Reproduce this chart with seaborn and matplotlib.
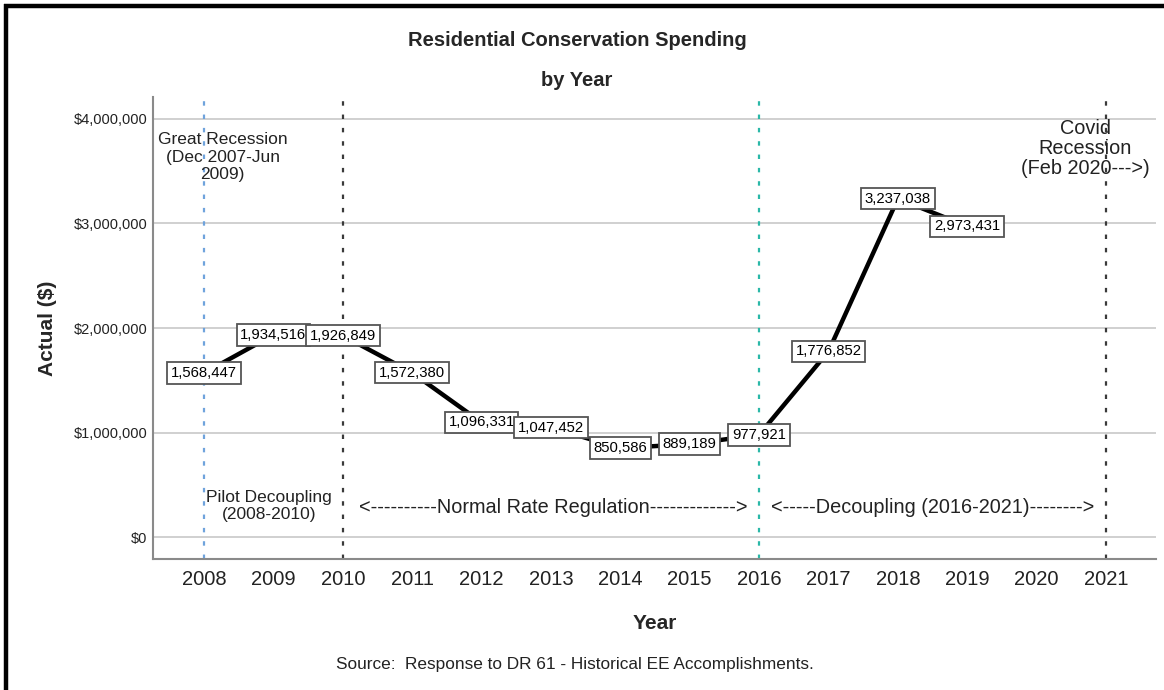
import matplotlib
matplotlib.use("Agg")
import matplotlib.pyplot as plt
from matplotlib.lines import Line2D
from matplotlib.ticker import FuncFormatter
import seaborn as sns
import pandas as pd

# Residential conservation spending, actual dollars by program year
years = [2008, 2009, 2010, 2011, 2012, 2013, 2014, 2015, 2016, 2017, 2018, 2019]
spending = [1568447, 1934516, 1926849, 1572380, 1096331, 1047452,
            850586, 889189, 977921, 1776852, 3237038, 2973431]
tick_years = list(range(2008, 2022))
y_ticks = [0, 1000000, 2000000, 3000000, 4000000]

# Reference lines marking policy periods and recessions
marker_years = [2008, 2010, 2016, 2021]
marker_colors = ["#6fa3dc", "#3a3a3a", "#2bb8a8", "#3a3a3a"]

df = pd.DataFrame({"Year": years, "Actual": spending})

sns.set_theme(style="white")
plt.rcParams["font.family"] = ["Liberation Sans", "DejaVu Sans"]

fig = plt.figure(figsize=(11.64, 6.90), dpi=100)
ax = fig.add_axes([153 / 1164, 1 - 559 / 690, (1156 - 153) / 1164, (559 - 97) / 690])

ax.set_xlim(2007.265, 2021.72)
ax.set_ylim(-210500, 4210500)

ax.yaxis.grid(True, color="#c8c8c8", linewidth=1.2)
ax.set_axisbelow(True)

for yr, col in zip(marker_years, marker_colors):
    ax.axvline(yr, color=col, linewidth=1.6, linestyle=(0, (2, 4)), zorder=1.5)

sns.lineplot(data=df, x="Year", y="Actual", ax=ax, color="black",
             linewidth=3.2, zorder=3, legend=False)

for yr, val in zip(years, spending):
    ax.text(yr, val, f"{val:,}", ha="center", va="center", fontsize=10.7,
            color="black", zorder=4,
            bbox=dict(boxstyle="square,pad=0.25", facecolor="white",
                      edgecolor="#555555", linewidth=1.3))

ax.set_xticks(tick_years)
ax.set_xticklabels([str(t) for t in tick_years], fontsize=14.5, color="#222222")
ax.set_yticks(y_ticks)
ax.yaxis.set_major_formatter(FuncFormatter(lambda v, p: f"${v:,.0f}"))
ax.tick_params(axis="y", labelsize=10.5, colors="#222222", length=0, pad=4)
ax.tick_params(axis="x", length=0, pad=8)

for side in ("top", "right"):
    ax.spines[side].set_visible(False)
for side in ("left", "bottom"):
    ax.spines[side].set_color("#8a8a8a")
    ax.spines[side].set_linewidth(1.5)

ax.set_xlabel("Year", fontsize=15, fontweight="bold", labelpad=18)
ax.set_ylabel("Actual ($)", fontsize=15, fontweight="bold", labelpad=12)

# Period and event annotations
ax.text(2008.27, 3636000, "Great Recession\n(Dec 2007-Jun\n2009)", ha="center",
        va="center", fontsize=12.5, linespacing=1.2, color="#222222")
ax.text(2020.70, 3720000, "Covid\nRecession\n(Feb 2020--->)", ha="center",
        va="center", fontsize=14.3, linespacing=1.05, color="#222222")
ax.text(2008.94, 297000, "Pilot Decoupling\n(2008-2010)", ha="center",
        va="center", fontsize=12.5, linespacing=1.2, color="#222222")
ax.text(2013.04, 280000, "<----------Normal Rate Regulation------------->",
        ha="center", va="center", fontsize=14.3, color="#222222")
ax.text(2018.50, 280000, "<-----Decoupling (2016-2021)-------->",
        ha="center", va="center", fontsize=14.3, color="#222222")

fig.text(577 / 1164, 1 - 41 / 690, "Residential Conservation Spending",
         ha="center", va="center", fontsize=14.5, fontweight="bold")
fig.text(577 / 1164, 1 - 80 / 690, "by Year",
         ha="center", va="center", fontsize=14.5, fontweight="bold")
fig.text(575 / 1164, 1 - 665 / 690,
         "Source:  Response to DR 61 - Historical EE Accomplishments.",
         ha="center", va="center", fontsize=12.4, color="#222222")

# Heavy frame along the left and top edges of the figure
fig.add_artist(Line2D([5.5 / 1164, 5.5 / 1164], [0, 1 - 4 / 690],
                      transform=fig.transFigure, color="black", linewidth=3.2,
                      solid_capstyle="butt"))
fig.add_artist(Line2D([4 / 1164, 1], [1 - 5.5 / 690, 1 - 5.5 / 690],
                      transform=fig.transFigure, color="black", linewidth=3.2,
                      solid_capstyle="butt"))

fig.savefig("out.png", dpi=100, facecolor="white")
